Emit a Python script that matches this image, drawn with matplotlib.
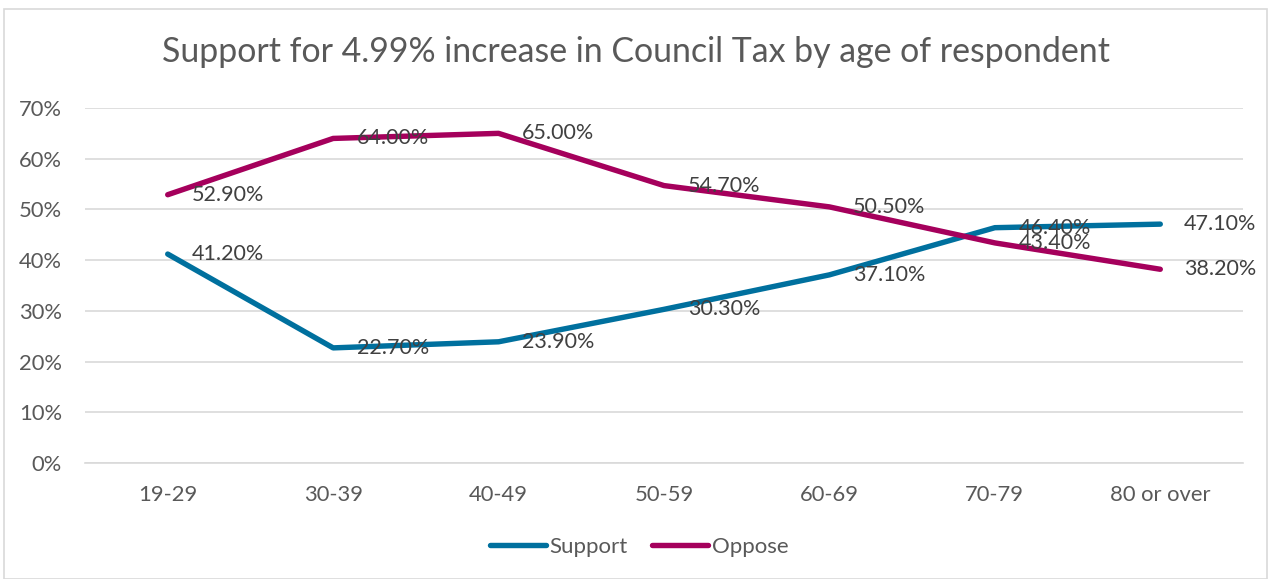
import matplotlib
matplotlib.use("Agg")
import matplotlib.pyplot as plt
from matplotlib.ticker import FuncFormatter, MultipleLocator
from matplotlib.patches import Rectangle

plt.rcParams['font.family'] = ['Lato', 'DejaVu Sans']

age_groups = ["19-29", "30-39", "40-49", "50-59", "60-69", "70-79", "80 or over"]
support = [41.2, 22.7, 23.9, 30.3, 37.1, 46.4, 47.1]
oppose = [52.9, 64.0, 65.0, 54.7, 50.5, 43.4, 38.2]

support_color = "#00709E"
oppose_color = "#A5005C"
text_color = "#595959"
grid_color = "#D9D9D9"

fig = plt.figure(figsize=(12.71, 5.79), dpi=100)
fig.patches.append(Rectangle((0.003, 0.0), 0.994, 0.985, transform=fig.transFigure,
                             fill=False, edgecolor="#D9D9D9", linewidth=1.2))
ax = fig.add_axes([85 / 1271, 1 - 463 / 579, (1243 - 85) / 1271, (463 - 108) / 579])

x = list(range(len(age_groups)))
ax.plot(x, support, color=support_color, linewidth=3.9, solid_capstyle="round",
        label="Support", zorder=3)
ax.plot(x, oppose, color=oppose_color, linewidth=3.9, solid_capstyle="round",
        label="Oppose", zorder=3)

# value labels sit to the right of each point (the 70-79 pair overlaps, as in the source chart)
for series in (support, oppose):
    for xi, v in zip(x, series):
        ax.annotate(f"{v:.2f}%", (xi, v), xytext=(17, 0), textcoords="offset points",
                    ha="left", va="center", fontsize=15.5, color="#404040", zorder=4)

ax.set_xlim(-0.5, len(age_groups) - 0.5)
ax.set_ylim(0, 70)
ax.yaxis.set_major_locator(MultipleLocator(10))
ax.yaxis.set_major_formatter(FuncFormatter(lambda v, p: f"{v:.0f}%"))
ax.set_xticks(x)
ax.set_xticklabels(age_groups)
ax.tick_params(axis="both", length=0, labelsize=15.8, colors=text_color)
ax.tick_params(axis="x", pad=16)
ax.tick_params(axis="y", pad=16.5)
ax.grid(axis="y", color=grid_color, linewidth=1.2)
ax.set_axisbelow(True)
for side in ["top", "right", "left"]:
    ax.spines[side].set_visible(False)
ax.spines["bottom"].set_color(grid_color)
ax.spines["bottom"].set_linewidth(1.2)

fig.text(0.5, 1 - 52 / 579, "Support for 4.99% increase in Council Tax by age of respondent",
         ha="center", va="center", fontsize=24.4, color=text_color)

fig.legend(loc="center", bbox_to_anchor=(0.503, 1 - 547 / 579), ncol=2, frameon=False,
           fontsize=16, handlelength=2.5, handletextpad=0.18, columnspacing=1.1,
           labelcolor=text_color)

fig.savefig("out.png", dpi=100)
